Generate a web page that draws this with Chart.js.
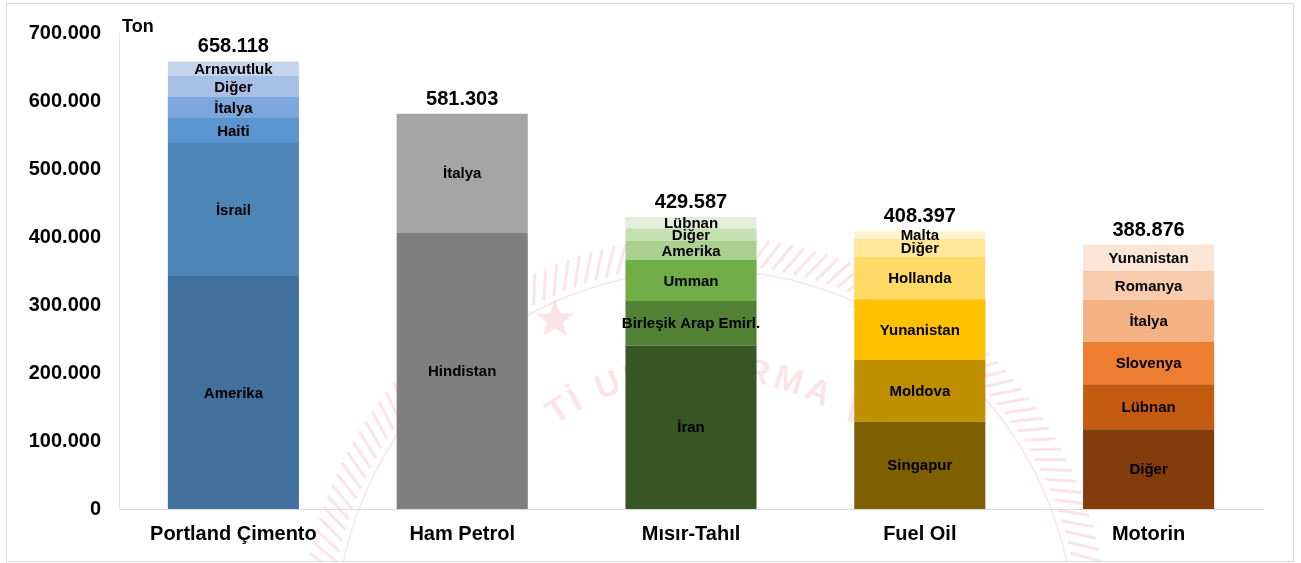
<!DOCTYPE html>
<html>
<head>
<meta charset="utf-8">
<script src="https://cdn.jsdelivr.net/npm/chart.js@4"></script>
<style>
  body { margin: 0; background: #fff; }
  #wrap { position: relative; width: 1301px; height: 563px; }
</style>
</head>
<body>
<div id="wrap"><canvas id="cargo-chart" width="1301" height="563"></canvas></div>
<script>
// Yük cinsine göre ülke dağılımı (ton)

const categories = ['Portland Çimento', 'Ham Petrol', 'Mısır-Tahıl', 'Fuel Oil', 'Motorin'];
const totals = [658118, 581303, 429587, 408397, 388876];

// her yığın alttan üste
const portlandCountries = ['Amerika', 'İsrail', 'Haiti', 'İtalya', 'Diğer', 'Arnavutluk'];
const portlandValues = [342600, 195500, 36800, 30900, 30900, 21418];
const portlandColors = ['#41719c', '#4e85b7', '#5a95cf', '#7ba7dc', '#a6c1e5', '#c5d5ec'];

const petrolCountries = ['Hindistan', 'İtalya'];
const petrolValues = [405900, 175403];
const petrolColors = ['#7f7f7f', '#a5a5a5'];

const misirCountries = ['İran', 'Birleşik Arap Emirl.', 'Umman', 'Amerika', 'Diğer', 'Lübnan'];
const misirValues = [240200, 65700, 60300, 27900, 18700, 16787];
const misirColors = ['#375623', '#538135', '#70ad47', '#a9d08e', '#c6e0b4', '#e2efda'];

const fuelCountries = ['Singapur', 'Moldova', 'Yunanistan', 'Hollanda', 'Diğer', 'Malta'];
const fuelValues = [128400, 90700, 89300, 62600, 26000, 11397];
const fuelColors = ['#7f6000', '#bf8f00', '#ffc000', '#ffd966', '#ffe699', '#fff2cc'];

const motorinCountries = ['Diğer', 'Lübnan', 'Slovenya', 'İtalya', 'Romanya', 'Yunanistan'];
const motorinValues = [117200, 66200, 62600, 61300, 42600, 38976];
const motorinColors = ['#843c0c', '#c55a11', '#ed7d31', '#f4b183', '#f8cbad', '#fbe5d6'];

const yTicks = [0, 100000, 200000, 300000, 400000, 500000, 600000, 700000];

const stacks = [
  { names: portlandCountries, values: portlandValues, colors: portlandColors },
  { names: petrolCountries, values: petrolValues, colors: petrolColors },
  { names: misirCountries, values: misirValues, colors: misirColors },
  { names: fuelCountries, values: fuelValues, colors: fuelColors },
  { names: motorinCountries, values: motorinValues, colors: motorinColors },
];

const FONT = '"Liberation Sans", Arial, sans-serif';

// 1.234.567 biçimi
const trNum = (v) => String(Math.round(v)).replace(/\B(?=(\d{3})+(?!\d))/g, '.');

// her seviye bir dataset
const levels = Math.max(...stacks.map((s) => s.values.length));
const datasets = [];
for (let l = 0; l < levels; l++) {
  datasets.push({
    label: 'seviye ' + (l + 1),
    data: stacks.map((s) => (s.values[l] !== undefined ? s.values[l] : null)),
    names: stacks.map((s) => s.names[l] || ''),
    backgroundColor: stacks.map((s) => s.colors[l] || 'transparent'),
    borderWidth: 0,
    barPercentage: 0.573,
    categoryPercentage: 1,
  });
}

// arka plan, çerçeve ve soluk mühür
const backgroundPlugin = {
  id: 'background',
  beforeDraw(chart) {
    const ctx = chart.ctx;
    ctx.save();
    ctx.fillStyle = '#fff';
    ctx.fillRect(0, 0, chart.width, chart.height);
    ctx.strokeStyle = '#d9d9d9';
    ctx.lineWidth = 1;
    ctx.strokeRect(6.5, 3.5, 1287, 558);

    const cx = 705, cy = 640;
    ctx.beginPath();
    ctx.rect(7, 4, 1286, 557);
    ctx.clip();
    ctx.strokeStyle = 'rgba(225, 50, 70, 0.13)';
    ctx.lineWidth = 3;
    // halat halkası
    for (let a = 180; a <= 360; a += 1.7) {
      const t1 = (a * Math.PI) / 180;
      const t2 = ((a + 2.2) * Math.PI) / 180;
      ctx.beginPath();
      ctx.moveTo(cx + 376 * Math.cos(t1), cy + 376 * Math.sin(t1));
      ctx.lineTo(cx + 404 * Math.cos(t2), cy + 404 * Math.sin(t2));
      ctx.stroke();
    }
    ctx.lineWidth = 1.5;
    ctx.beginPath();
    ctx.arc(cx, cy, 370, Math.PI, 2 * Math.PI);
    ctx.stroke();

    // yıldızlar
    ctx.fillStyle = 'rgba(225, 50, 70, 0.13)';
    const star = (x, y, r) => {
      ctx.beginPath();
      for (let k = 0; k < 10; k++) {
        const rr = k % 2 === 0 ? r : r * 0.42;
        const ang = -Math.PI / 2 + (k * Math.PI) / 5;
        ctx.lineTo(x + rr * Math.cos(ang), y + rr * Math.sin(ang));
      }
      ctx.closePath();
      ctx.fill();
    };
    star(555, 320, 20);
    star(870, 312, 20);

    // yay üstünde yazı
    const text = 'Tİ ULAŞTIRMA VE';
    ctx.font = 'bold 34px ' + FONT;
    ctx.textAlign = 'center';
    ctx.textBaseline = 'alphabetic';
    const r = 262;
    const widths = [...text].map((ch) => ctx.measureText(ch).width + 4);
    const total = widths.reduce((a, b) => a + b, 0);
    let ang = -Math.PI / 2 - total / 2 / r + 0.06;
    [...text].forEach((ch, i) => {
      const mid = ang + widths[i] / 2 / r;
      ctx.save();
      ctx.translate(cx, cy);
      ctx.rotate(mid + Math.PI / 2);
      ctx.fillText(ch, 0, -r);
      ctx.restore();
      ang += widths[i] / r;
    });
    ctx.restore();
  },
};

// dilim etiketleri ve toplamlar
const labelPlugin = {
  id: 'segmentLabels',
  afterDatasetsDraw(chart) {
    const ctx = chart.ctx;
    ctx.save();
    ctx.fillStyle = '#000';
    ctx.textAlign = 'center';
    ctx.textBaseline = 'middle';
    ctx.font = 'bold 15px ' + FONT;
    chart.data.datasets.forEach((ds, di) => {
      const meta = chart.getDatasetMeta(di);
      meta.data.forEach((bar, i) => {
        if (ds.data[i] === null) return;
        const y = (bar.y + bar.base) / 2;
        ctx.fillText(ds.names[i], bar.x, y + 1);
      });
    });

    const xScale = chart.scales.x;
    const yScale = chart.scales.y;
    ctx.font = 'bold 20px ' + FONT;
    ctx.textBaseline = 'alphabetic';
    totals.forEach((t, i) => {
      ctx.fillText(trNum(t), xScale.getPixelForValue(i), yScale.getPixelForValue(t) - 9);
    });

    // birim
    ctx.textAlign = 'left';
    ctx.font = 'bold 18px ' + FONT;
    ctx.fillText('Ton', chart.chartArea.left + 3, 32);
    ctx.restore();
  },
};

new Chart(document.querySelector('#cargo-chart'), {
  type: 'bar',
  data: {
    labels: categories,
    datasets: datasets,
  },
  options: {
    responsive: false,
    animation: false,
    layout: {
      padding: { top: 33, right: 38, left: 0, bottom: 0 },
    },
    plugins: {
      legend: { display: false },
      tooltip: { enabled: false },
    },
    scales: {
      x: {
        stacked: true,
        grid: { display: false, drawTicks: false },
        border: { display: true, color: '#d9d9d9', width: 1 },
        ticks: {
          color: '#000',
          padding: 13,
          font: { family: FONT, size: 20, weight: 'bold' },
        },
        afterFit(scale) {
          scale.height = 54;
        },
      },
      y: {
        stacked: true,
        min: 0,
        max: 700000,
        grid: { display: false, drawTicks: false },
        border: { display: true, color: '#e4e4e4', width: 1 },
        afterBuildTicks(scale) {
          scale.ticks = yTicks.map((v) => ({ value: v }));
        },
        ticks: {
          color: '#000',
          padding: 18,
          font: { family: FONT, size: 20, weight: 'bold' },
          callback: (v) => trNum(v),
        },
        afterFit(scale) {
          scale.width = 119;
        },
      },
    },
  },
  plugins: [backgroundPlugin, labelPlugin],
});
</script>
</body>
</html>
